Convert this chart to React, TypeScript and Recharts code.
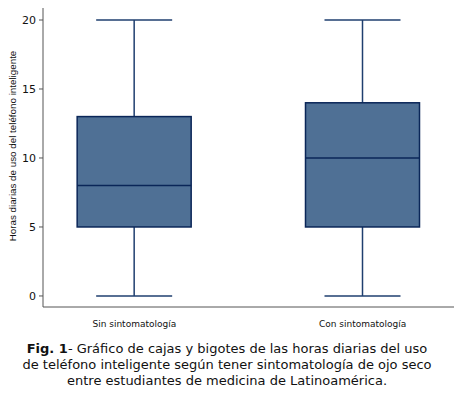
import { ComposedChart, Bar, XAxis, YAxis } from 'recharts';

const groups = ['Sin sintomatología', 'Con sintomatología'];
const mins = [0, 0];
const q1s = [5, 5];
const medians = [8, 10];
const q3s = [13, 14];
const maxs = [20, 20];
const yTicks = [0, 5, 10, 15, 20];

const data = groups.map((g, i) => ({
  pos: i + 1,
  name: g,
  min: mins[i],
  q1: q1s[i],
  median: medians[i],
  q3: q3s[i],
  max: maxs[i],
  range: [mins[i], maxs[i]],
}));

const BoxShape = (props: any) => {
  const { x, y, width, height, payload } = props;
  const ppu = height / (payload.max - payload.min);
  const py = (v: number) => y + (payload.max - v) * ppu;
  const cx = x + width / 2;
  const cap = width / 3;
  return (
    <g>
      <line x1={cx} x2={cx} y1={py(payload.max)} y2={py(payload.q3)} stroke="#1f3f6f" strokeWidth={1.5} />
      <line x1={cx} x2={cx} y1={py(payload.q1)} y2={py(payload.min)} stroke="#1f3f6f" strokeWidth={1.5} />
      <line x1={cx - cap} x2={cx + cap} y1={py(payload.max)} y2={py(payload.max)} stroke="#1f3f6f" strokeWidth={1.5} />
      <line x1={cx - cap} x2={cx + cap} y1={py(payload.min)} y2={py(payload.min)} stroke="#1f3f6f" strokeWidth={1.5} />
      <rect x={x} y={py(payload.q3)} width={width} height={py(payload.q1) - py(payload.q3)}
        fill="#4f7095" stroke="#0a2658" strokeWidth={1.5} />
      <line x1={x} x2={x + width} y1={py(payload.median)} y2={py(payload.median)} stroke="#0a2658" strokeWidth={1.5} />
    </g>
  );
};

export default function App() {
  return (
    <div style={{ position: 'absolute', left: 0, top: 0, width: 454, height: 393, background: '#fff', fontFamily: '"DejaVu Sans", Verdana, sans-serif' }}>
      <ComposedChart width={454} height={340} data={data} margin={{ top: 8, right: 0, bottom: 0, left: 0 }}>
        <XAxis
          dataKey="pos"
          type="number"
          domain={[0.6, 2.4]}
          ticks={[1, 2]}
          tickFormatter={(v: number) => groups[v - 1]}
          height={33}
          tickLine={false}
          tickSize={0}
          tickMargin={14}
          stroke="#555"
          tick={{ fill: '#111', fontSize: 9, fontFamily: '"DejaVu Sans", sans-serif' }}
        />
        <YAxis
          type="number"
          domain={[-0.8, 20.87]}
          ticks={yTicks}
          width={43}
          tickSize={4}
          tickMargin={3}
          stroke="#555"
          tick={{ fill: '#111', fontSize: 11, fontFamily: '"DejaVu Sans", sans-serif' }}
        />
        <Bar dataKey="range" barSize={114} shape={<BoxShape />} isAnimationActive={false} />
      </ComposedChart>
      <div style={{ position: 'absolute', left: 12, top: 146, transform: 'translate(-50%, -50%) rotate(-90deg)', whiteSpace: 'nowrap', fontFamily: '"Liberation Sans", Arial, sans-serif', fontSize: 9.8, color: '#111' }}>
        Horas diarias de uso del teléfono inteligente
      </div>
      <div style={{ position: 'absolute', left: 0, top: 341, width: 454, textAlign: 'center', fontSize: 13, lineHeight: '16px', color: '#111' }}>
        <b>Fig. 1</b>- Gráfico de cajas y bigotes de las horas diarias del uso<br />
        de teléfono inteligente según tener sintomatología de ojo seco<br />
        entre estudiantes de medicina de Latinoamérica.
      </div>
    </div>
  );
}
